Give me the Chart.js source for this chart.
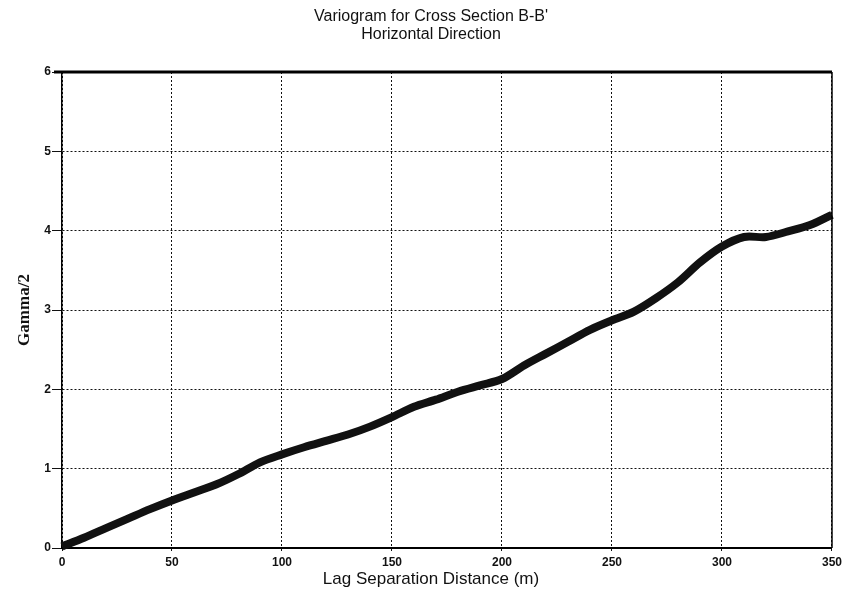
<!DOCTYPE html>
<html>
<head>
<meta charset="utf-8">
<script src="https://cdn.jsdelivr.net/npm/chart.js@4.4.1/dist/chart.umd.min.js"></script>
<style>
  html, body { margin: 0; padding: 0; background: #fff; }
  #box { width: 846px; height: 603px; }
</style>
</head>
<body>
<div id="box"><canvas id="vario"></canvas></div>
<script>
// lag distance (m) and semivariance
const lags = [0, 10, 20, 30, 40, 50, 60, 70, 80, 90, 100, 110, 120, 130, 140, 150, 160, 170, 180,
    190, 200, 210, 220, 230, 240, 250, 260, 270, 280, 290, 300, 310, 320, 330, 340, 350];
const gamma = [0.02, 0.13, 0.25, 0.37, 0.49, 0.60, 0.70, 0.80, 0.93, 1.08, 1.18, 1.27, 1.35, 1.43,
    1.53, 1.65, 1.78, 1.87, 1.97, 2.05, 2.13, 2.30, 2.45, 2.60, 2.75, 2.87, 2.98, 3.15, 3.35, 3.60,
    3.80, 3.92, 3.92, 3.99, 4.07, 4.20];
const xTicks = [0, 50, 100, 150, 200, 250, 300, 350];
const yTicks = [0, 1, 2, 3, 4, 5, 6];
const titleLines = ['Variogram for Cross Section B-B\'', 'Horizontal Direction'];
const xLabel = 'Lag Separation Distance (m)';

// heading and x-axis caption, set a little left of the plot centre
const captions = {
    id: 'captions',
    afterDraw(chart) {
        const { ctx, chartArea: a } = chart;
        const cx = (a.left + a.right) / 2 - 16;
        ctx.save();
        ctx.fillStyle = '#111';
        ctx.textAlign = 'center';
        ctx.textBaseline = 'middle';
        ctx.font = '16px "Liberation Sans"';
        titleLines.forEach((t, i) => ctx.fillText(t, cx, 17 + i * 18));
        ctx.font = '17px "Liberation Sans"';
        ctx.fillText(xLabel, cx, 579);
        ctx.restore();
    }
};

// solid frame on the top and right edges
const frame = {
    id: 'frame',
    afterDraw(chart) {
        const { ctx, chartArea: a } = chart;
        ctx.save();
        ctx.strokeStyle = '#000';
        ctx.lineWidth = 3;
        ctx.beginPath();
        ctx.moveTo(a.left - 8, a.top);
        ctx.lineTo(a.right, a.top);
        ctx.stroke();
        ctx.lineWidth = 1.5;
        ctx.beginPath();
        ctx.moveTo(a.right, a.top);
        ctx.lineTo(a.right, a.bottom);
        ctx.stroke();
        ctx.restore();
    }
};

new Chart(document.getElementById('vario'), {
    type: 'line',
    data: {
        datasets: [{
            data: lags.map((x, i) => ({ x: x, y: gamma[i] })),
            borderColor: '#111',
            borderWidth: 8,
            pointRadius: 0,
            tension: 0.3,
            clip: false
        }]
    },
    options: {
        responsive: true,
        maintainAspectRatio: false,
        animation: false,
        layout: { padding: { right: 13, top: 72 } },
        plugins: {
            legend: { display: false },
            tooltip: { enabled: false },
            title: { display: false }
        },
        scales: {
            x: {
                type: 'linear',
                min: 0,
                max: 350,
                afterBuildTicks: s => { s.ticks = xTicks.map(v => ({ value: v })); },
                afterFit: s => { s.height = 55; },
                ticks: {
                    color: '#111',
                    font: { family: 'Liberation Sans', size: 12, weight: 'bold' },
                    padding: 4,
                    maxRotation: 0
                },
                grid: { color: '#111', lineWidth: 1, tickLength: 3 },
                border: { color: '#000', width: 2, dash: [2, 2] }
            },
            y: {
                min: 0,
                max: 6,
                afterBuildTicks: s => { s.ticks = yTicks.map(v => ({ value: v })); },
                afterFit: s => { s.width = 62; },
                ticks: {
                    color: '#111',
                    font: { family: 'Liberation Sans', size: 12, weight: 'bold' },
                    padding: 1
                },
                grid: { color: '#111', lineWidth: 1, tickLength: 10 },
                border: { color: '#000', width: 1.5, dash: [2, 2] },
                title: {
                    display: true,
                    text: 'Gamma/2',
                    color: '#111',
                    font: { family: 'Liberation Serif', size: 17, weight: 'bold' },
                    padding: { top: 14, bottom: 0 }
                }
            }
        }
    },
    plugins: [captions, frame]
});
</script>
</body>
</html>
